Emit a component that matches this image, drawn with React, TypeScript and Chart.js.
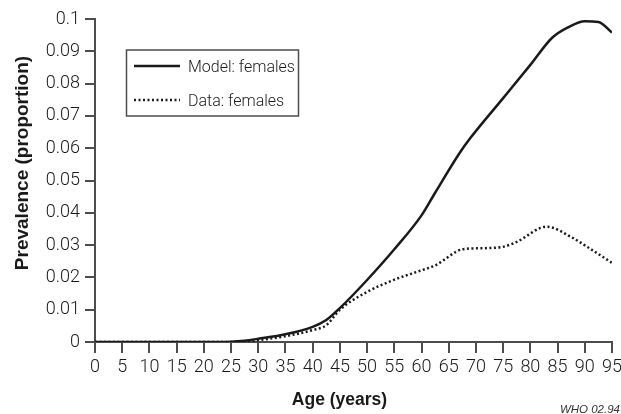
import React, { useEffect, useRef } from "react";
import { Chart, registerables } from "chart.js";

Chart.register(...registerables);

const modelAges = [0, 5, 10, 15, 20, 25, 27.5, 30, 35, 40, 42.5, 45, 50, 55, 60, 62.5, 67, 69, 75, 80, 84, 87, 90, 92.5, 95];
const modelValues = [0, 0, 0, 0, 0, 0.0001, 0.0004, 0.001, 0.0024, 0.0047, 0.0068, 0.0105, 0.0192, 0.0287, 0.0392, 0.0462, 0.0585, 0.0632, 0.0755, 0.0858, 0.0942, 0.0975, 0.0993, 0.0991, 0.0958];

const dataAges = [0, 25, 27.5, 30, 35, 40, 42.5, 45, 50, 55, 60, 62.5, 67.5, 70, 75, 77.5, 83, 87.5, 90.5, 95];
const dataValues = [0, 0, 0.0002, 0.0006, 0.0018, 0.0037, 0.0052, 0.01, 0.0155, 0.0193, 0.0222, 0.0237, 0.0287, 0.029, 0.0295, 0.031, 0.0357, 0.0325, 0.0294, 0.0245];

const seriesLabels = ["Model: females", "Data: females"];
const xTitle = "Age (years)";
const yTitle = "Prevalence (proportion)";
const caption = "WHO 02.94";

const LIGHT = "Roboto, 'Liberation Sans', sans-serif";
const BOLD = "'Liberation Sans', 'Noto Sans', sans-serif";
const INK = "#1a1a1a";
const AXIS = "#4d4d4d";

const decorPlugin = {
  id: "decor",
  afterDraw(chart: any) {
    const ctx = chart.ctx as CanvasRenderingContext2D;
    ctx.save();
    ctx.fillStyle = INK;
    ctx.textBaseline = "alphabetic";
    ctx.font = `bold 17.5px ${BOLD}`;
    ctx.textAlign = "center";
    ctx.fillText(xTitle, 339.5, 405);
    ctx.save();
    ctx.translate(28, 163);
    ctx.rotate(-Math.PI / 2);
    ctx.font = `bold 19px ${BOLD}`;
    ctx.fillText(yTitle, 0, 0);
    ctx.restore();
    ctx.font = `italic 11.5px ${BOLD}`;
    ctx.fillStyle = "#333";
    ctx.textAlign = "right";
    ctx.fillText(caption, 620, 413);
    ctx.strokeStyle = AXIS;
    ctx.lineWidth = 1.5;
    ctx.strokeRect(126.5, 50, 172, 66);
    const rows = [66, 100];
    chart.data.datasets.forEach((ds: any, i: number) => {
      const y = rows[i];
      ctx.beginPath();
      ctx.strokeStyle = ds.borderColor;
      ctx.lineWidth = ds.borderWidth;
      ctx.setLineDash(ds.borderDash || []);
      ctx.moveTo(134, y);
      ctx.lineTo(180, y);
      ctx.stroke();
      ctx.setLineDash([]);
      ctx.fillStyle = INK;
      ctx.font = `300 16px ${LIGHT}`;
      ctx.textAlign = "left";
      ctx.textBaseline = "alphabetic";
      ctx.fillText(ds.label, 188, y + 6);
    });
    ctx.restore();
  },
};

export default function App() {
  const ref = useRef<HTMLCanvasElement | null>(null);
  useEffect(() => {
    if (!ref.current) return;
    const chart = new Chart(ref.current, {
      type: "line",
      data: {
        datasets: [
          {
            label: seriesLabels[0],
            data: modelAges.map((a, i) => ({ x: a, y: modelValues[i] })),
            borderColor: INK,
            borderWidth: 2.5,
            pointRadius: 0,
            cubicInterpolationMode: "monotone",
            fill: false,
          },
          {
            label: seriesLabels[1],
            data: dataAges.map((a, i) => ({ x: a, y: dataValues[i] })),
            borderColor: INK,
            borderWidth: 2.5,
            borderDash: [2, 2.5],
            pointRadius: 0,
            cubicInterpolationMode: "monotone",
            fill: false,
          },
        ],
      },
      options: {
        animation: false,
        responsive: true,
        maintainAspectRatio: false,
        layout: { padding: { top: 19, right: 9, left: 0, bottom: 0 } },
        plugins: { legend: { display: false }, tooltip: { enabled: false } },
        scales: {
          x: {
            type: "linear",
            min: 0,
            max: 95,
            grid: { display: true, drawOnChartArea: false, drawTicks: true, tickLength: 11, color: AXIS, tickColor: AXIS, tickWidth: 2, lineWidth: 2 },
            border: { display: true, color: AXIS, width: 2 },
            ticks: { stepSize: 5, color: INK, padding: 4, maxRotation: 0, autoSkip: false, font: { family: LIGHT, size: 18, weight: "300" } },
            afterFit: (s: any) => {
              s.height = 72;
              s.paddingLeft = 0;
              s.paddingRight = 0;
            },
          },
          y: {
            min: 0,
            max: 0.1,
            grid: { display: true, drawOnChartArea: false, drawTicks: true, tickLength: 10, color: AXIS, tickColor: AXIS, tickWidth: 2, lineWidth: 2 },
            border: { display: true, color: AXIS, width: 2 },
            ticks: {
              stepSize: 0.01,
              color: INK,
              padding: 5,
              font: { family: LIGHT, size: 18, weight: "300" },
              callback: (v: any) => (v === 0 ? "0" : String(Number(Number(v).toFixed(2)))),
            },
            afterFit: (s: any) => {
              s.width = 95;
              s.paddingTop = 0;
              s.paddingBottom = 0;
            },
          },
        },
      },
      plugins: [decorPlugin],
    } as any);
    return () => chart.destroy();
  }, []);
  return (
    <div style={{ position: "fixed", left: 0, top: 0, width: 621, height: 414, background: "#fff" }}>
      <canvas ref={ref} />
    </div>
  );
}
